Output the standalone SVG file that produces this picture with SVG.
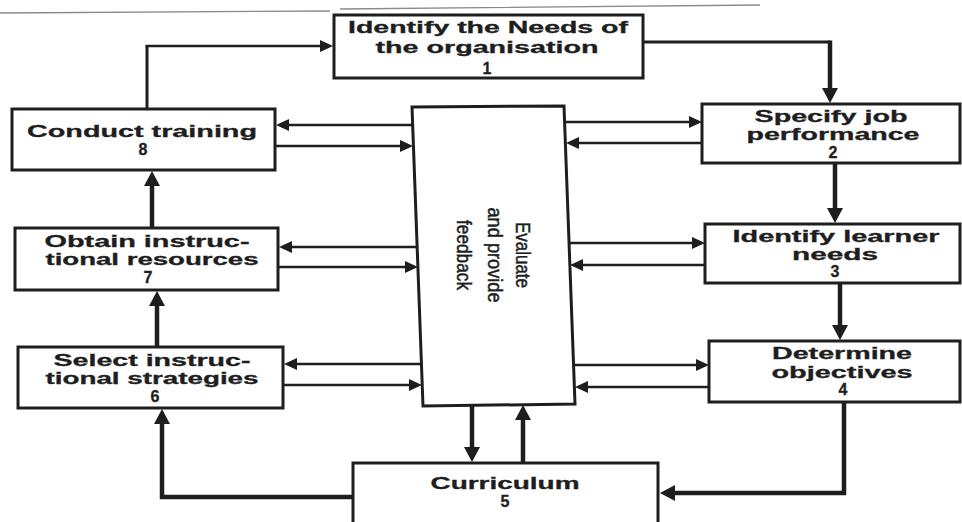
<svg xmlns="http://www.w3.org/2000/svg" width="962" height="522" viewBox="0 0 962 522">
  <style>
    .box { fill: #ffffff; stroke: #1e1e1e; stroke-width: 3; }
    .lbl { font-family: "Liberation Sans", Arial, Helvetica, sans-serif; font-weight: bold; font-size: 16px; fill: #1e1e1e; text-anchor: middle; stroke: #1e1e1e; stroke-width: 0.3; }
    .mid { font-family: "Liberation Sans", Arial, Helvetica, sans-serif; font-size: 20px; fill: #1e1e1e; text-anchor: middle; stroke: #1e1e1e; stroke-width: 0.5; }
    .thin { fill: none; stroke: #1e1e1e; stroke-width: 2.5; marker-end: url(#arr); }
    .thick { fill: none; stroke: #1e1e1e; stroke-width: 4.5; marker-end: url(#arrB); }
    .edge { fill: none; stroke: #1e1e1e; stroke-width: 3; }
  </style>
  <defs>
    <marker id="arr" viewBox="0 0 13 12" refX="9" refY="6" markerWidth="13" markerHeight="12" markerUnits="userSpaceOnUse" orient="auto">
      <path d="M0,0 L13,6 L0,12 z" fill="#1e1e1e"/>
    </marker>
    <marker id="arrB" viewBox="0 0 15 16" refX="9" refY="8" markerWidth="15" markerHeight="16" markerUnits="userSpaceOnUse" orient="auto">
      <path d="M0,0 L15,8 L0,16 z" fill="#1e1e1e"/>
    </marker>
  </defs>

  <rect width="962" height="522" fill="#ffffff"/>
  <!-- page rule along the top -->
  <path d="M0,13 L330,11 M340,9 L760,5" stroke="#8a8a8a" stroke-width="1.3" fill="none"/>

  <g id="connectors">
    <!-- main cycle -->
    <path class="edge" d="M147,109 L147,46" />
    <path class="thin" d="M145.5,46 L329,46" />
    <path class="edge" d="M643,42 L830,42" />
    <path class="thick" d="M830,40.5 L830,97" />
    <path class="thick" d="M835,163 L835,217" />
    <path class="thick" d="M840,283 L840,334" />
    <path class="thick" d="M844,402 L844,493 L666,493" />
    <path class="thick" d="M353,497 L162,497 L162,415" />
    <path class="thick" d="M157,347 L157,297" />
    <path class="thick" d="M152,228 L152,177" />
    <!-- evaluation box and curriculum -->
    <path class="thick" d="M472,405 L472,456" />
    <path class="thick" d="M523,463 L523,411" />
    <!-- feedback links, left column -->
    <path class="thin" d="M412.7,125 L280,125" />
    <path class="thin" d="M275,146 L409,146" />
    <path class="thin" d="M417.2,247 L283,247" />
    <path class="thin" d="M278,267 L414,267" />
    <path class="thin" d="M421.5,364 L288,364" />
    <path class="thin" d="M283,385 L418,385" />
    <!-- feedback links, right column -->
    <path class="thin" d="M564.6,122 L698,122" />
    <path class="thin" d="M702,143 L570,143" />
    <path class="thin" d="M569,243 L701,243" />
    <path class="thin" d="M705,265 L574,265" />
    <path class="thin" d="M573.6,365 L705,365" />
    <path class="thin" d="M709,387 L579,387" />
  </g>

  <g id="n1">
    <rect class="box" x="334" y="15" width="309" height="63"/>
    <text class="lbl" x="488" y="33" textLength="280" lengthAdjust="spacingAndGlyphs">Identify the Needs of</text>
    <text class="lbl" x="487" y="53" textLength="223" lengthAdjust="spacingAndGlyphs">the organisation</text>
    <text class="lbl" x="487" y="74">1</text>
  </g>

  <g id="n2">
    <rect class="box" x="702" y="104" width="258" height="59"/>
    <text class="lbl" x="831" y="122" textLength="153" lengthAdjust="spacingAndGlyphs">Specify job</text>
    <text class="lbl" x="833" y="140" textLength="173" lengthAdjust="spacingAndGlyphs">performance</text>
    <text class="lbl" x="833" y="158">2</text>
  </g>

  <g id="n3">
    <rect class="box" x="705" y="224" width="255" height="59"/>
    <text class="lbl" x="836" y="242" textLength="207" lengthAdjust="spacingAndGlyphs">Identify learner</text>
    <text class="lbl" x="835" y="260" textLength="86" lengthAdjust="spacingAndGlyphs">needs</text>
    <text class="lbl" x="835" y="277">3</text>
  </g>

  <g id="n4">
    <rect class="box" x="709" y="341" width="251" height="61"/>
    <text class="lbl" x="842" y="359" textLength="140" lengthAdjust="spacingAndGlyphs">Determine</text>
    <text class="lbl" x="842" y="378" textLength="141" lengthAdjust="spacingAndGlyphs">objectives</text>
    <text class="lbl" x="843" y="395">4</text>
  </g>

  <g id="n5">
    <rect class="box" x="353" y="463" width="305" height="70"/>
    <text class="lbl" x="505" y="489" textLength="149" lengthAdjust="spacingAndGlyphs">Curriculum</text>
    <text class="lbl" x="505" y="507">5</text>
  </g>

  <g id="n6">
    <rect class="box" x="18" y="347" width="265" height="61"/>
    <text class="lbl" x="152" y="366" textLength="197" lengthAdjust="spacingAndGlyphs">Select instruc-</text>
    <text class="lbl" x="152" y="384" textLength="213" lengthAdjust="spacingAndGlyphs">tional strategies</text>
    <text class="lbl" x="155" y="402">6</text>
  </g>

  <g id="n7">
    <rect class="box" x="15" y="228" width="263" height="62"/>
    <text class="lbl" x="147" y="247" textLength="205" lengthAdjust="spacingAndGlyphs">Obtain instruc-</text>
    <text class="lbl" x="152" y="265" textLength="213" lengthAdjust="spacingAndGlyphs">tional resources</text>
    <text class="lbl" x="148" y="283">7</text>
  </g>

  <g id="n8">
    <rect class="box" x="12" y="109" width="263" height="61"/>
    <text class="lbl" x="142" y="137" textLength="230" lengthAdjust="spacingAndGlyphs">Conduct training</text>
    <text class="lbl" x="143" y="155">8</text>
  </g>

  <g id="n9">
    <polygon class="box" points="412,107 564,106 575,404 423,406"/>
    <text class="mid" transform="translate(516,255) rotate(90)" textLength="66" lengthAdjust="spacingAndGlyphs">Evaluate</text>
    <text class="mid" transform="translate(488,255) rotate(90)" textLength="95" lengthAdjust="spacingAndGlyphs">and provide</text>
    <text class="mid" transform="translate(457,255) rotate(90)" textLength="70" lengthAdjust="spacingAndGlyphs">feedback</text>
  </g>
</svg>
